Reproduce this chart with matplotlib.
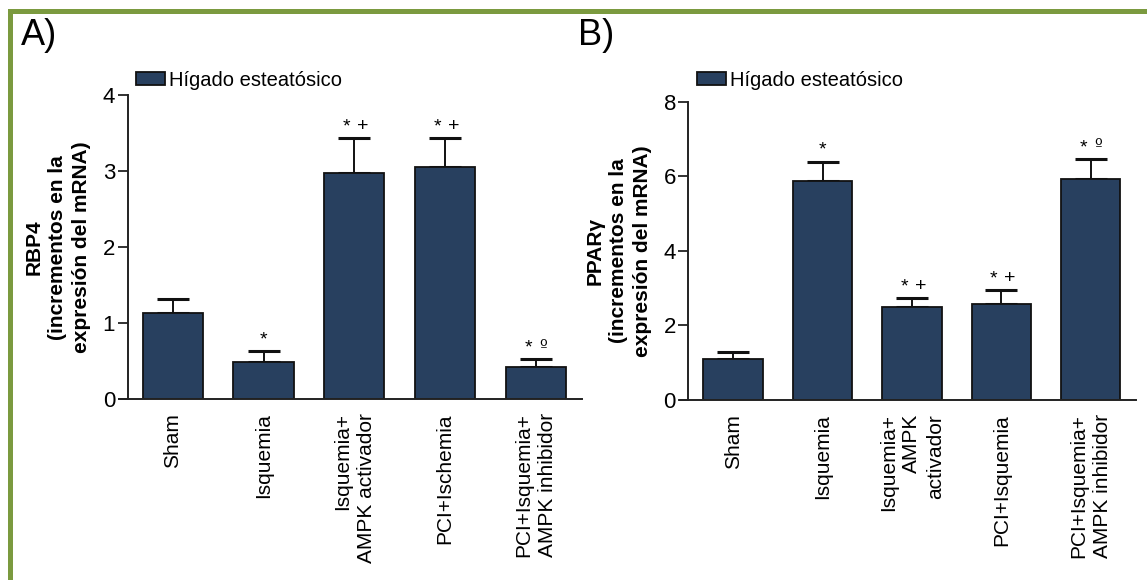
import numpy as np
import matplotlib
matplotlib.use("Agg")
import matplotlib.pyplot as plt
from matplotlib.patches import Rectangle

plt.rcParams['font.family'] = ['Liberation Sans', 'DejaVu Sans']

# datos
grupos_A = ['Sham', 'Isquemia', 'Isquemia+\nAMPK activador', 'PCI+Ischemia',
            'PCI+Isquemia+\nAMPK inhibidor']
rbp4 = [1.14, 0.495, 2.97, 3.05, 0.42]
rbp4_err = [0.18, 0.14, 0.46, 0.38, 0.11]
sig_A = ['', '*', '*+', '*+', '*º']

grupos_B = ['Sham', 'Isquemia', 'Isquemia+\nAMPK\nactivador', 'PCI+Isquemia',
            'PCI+Isquemia+\nAMPK inhibidor']
ppar = [1.10, 5.88, 2.49, 2.58, 5.92]
ppar_err = [0.19, 0.51, 0.24, 0.37, 0.55]
sig_B = ['', '*', '*+', '*+', '*º']

bar_color = '#28405f'
green = '#7b9a3f'
W, H = 1147, 580

fig = plt.figure(figsize=(W / 100, H / 100), dpi=100)

# marco verde (arriba e izquierda)
fig.add_artist(Rectangle((8 / W, 1 - 14 / H), 1 - 8 / W, 5 / H, transform=fig.transFigure,
                         color=green, lw=0))
fig.add_artist(Rectangle((8 / W, 0), 5 / W, 1 - 9 / H, transform=fig.transFigure,
                         color=green, lw=0))


def marca(ax, xi, y, s):
    # asterisco y simbolo (+ o º subrayado) encima del error
    if len(s) == 1:
        ax.annotate('*', (xi, y), xytext=(0, 2), textcoords='offset points',
                    ha='center', va='bottom', fontsize=14)
        return
    ax.annotate('*', (xi, y), xytext=(-5.5, 2), textcoords='offset points',
                ha='center', va='bottom', fontsize=14)
    if s[1] == '+':
        ax.annotate('+', (xi, y), xytext=(6, 2.5), textcoords='offset points',
                    ha='center', va='bottom', fontsize=14)
    else:
        ax.annotate('º', (xi, y), xytext=(5.5, 2.5), textcoords='offset points',
                    ha='center', va='bottom', fontsize=12, family='DejaVu Sans')


def panel(rect, grupos, vals, errs, sig, ymax, yticks, ylab, legend_xy, letra, letra_x):
    ax = fig.add_axes(rect)
    x = np.arange(len(vals))
    bars = ax.bar(x, vals, width=0.665, color=bar_color, edgecolor='#111111',
                  linewidth=1.3, label='Hígado esteatósico', zorder=2)
    ax.errorbar(x, vals, yerr=[np.zeros(len(errs)), errs], fmt='none', ecolor='#111111',
                elinewidth=1.4, capsize=11.2, capthick=2.2, zorder=1)
    for xi, v, e, s in zip(x, vals, errs, sig):
        if s:
            marca(ax, xi, v + e, s)
    ax.set_xlim(-0.595, 4.507)
    ax.set_ylim(0, ymax)
    ax.set_yticks(yticks)
    ax.set_xticks(x)
    ax.set_xticklabels(grupos, rotation=90, fontsize=15, va='top', ha='center',
                       multialignment='right', linespacing=1.3)
    ax.tick_params(axis='x', length=0, pad=10)
    ax.tick_params(axis='y', length=7, width=1.3, pad=2, labelsize=16, color='#222222')
    for s in ['top', 'right']:
        ax.spines[s].set_visible(False)
    ax.spines['left'].set_position(('data', -0.5))
    ax.spines['left'].set_linewidth(1.4)
    ax.spines['bottom'].set_linewidth(1.4)
    ax.spines['left'].set_color('#222222')
    ax.spines['bottom'].set_color('#222222')
    ax.patch.set_alpha(0)

    fig.text(rect[0] - 61 / W, rect[1] + rect[3] / 2, ylab, rotation=90, ha='center',
             va='center', multialignment='center', fontsize=15, fontweight='bold',
             linespacing=1.3)
    ax.legend(handles=[bars], loc='upper left', bbox_to_anchor=legend_xy,
              bbox_transform=fig.transFigure, frameon=False, fontsize=14.5,
              handlelength=1.45, handleheight=0.62, handletextpad=0.2, borderpad=0,
              borderaxespad=0)
    fig.text(letra_x, 1 - 18 / H, letra, fontsize=26, ha='left', va='top')
    return ax


panel([119 / W, (H - 399.3) / H, 462.7 / W, 304.3 / H], grupos_A, rbp4, rbp4_err, sig_A,
      4, [0, 1, 2, 3, 4], 'RBP4\n(incrementos en la\nexpresión del mRNA)',
      (136 / W, 1 - 71 / H), 'A)', 21 / W)
panel([680 / W, (H - 400) / H, 456 / W, 298.3 / H], grupos_B, ppar, ppar_err, sig_B,
      8, [0, 2, 4, 6, 8], 'PPARγ\n(incrementos en la\nexpresión del mRNA)',
      (697 / W, 1 - 71 / H), 'B)', 578 / W)

fig.savefig('out.png', dpi=100)
